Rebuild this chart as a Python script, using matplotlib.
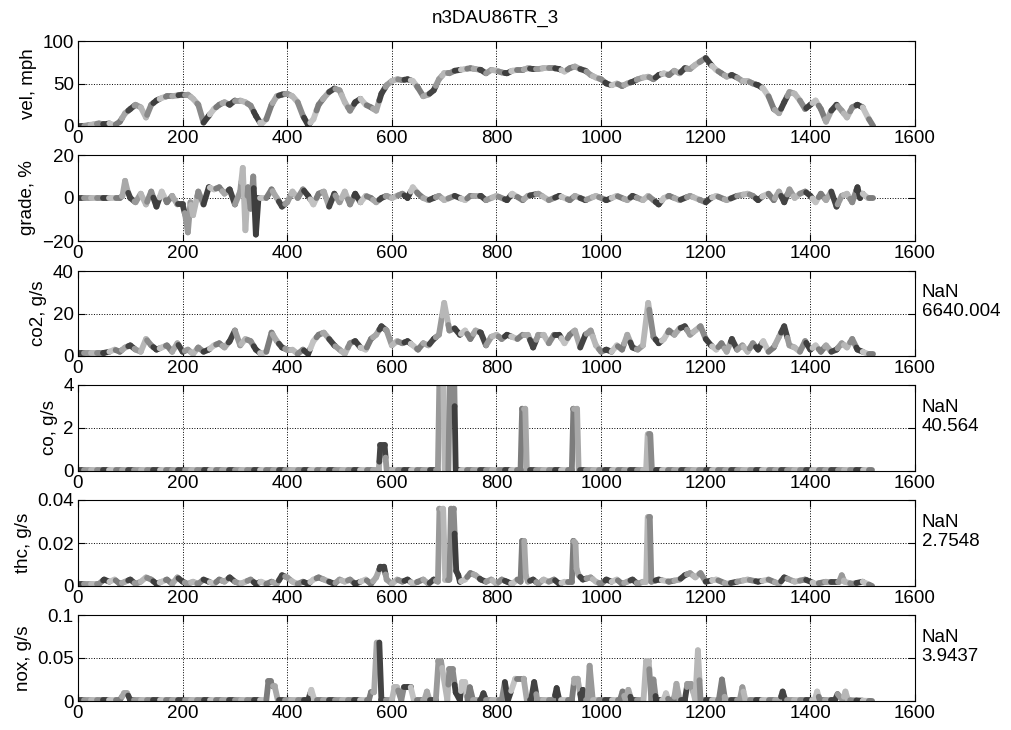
import numpy as np
import matplotlib
matplotlib.use("Agg")
import matplotlib.pyplot as plt
from matplotlib.collections import LineCollection

plt.rcParams["font.family"] = ["Liberation Sans", "DejaVu Sans"]
plt.rcParams["font.size"] = 13.5

TITLE = "n3DAU86TR_3"
YLABELS = ["vel, mph", "grade, %", "co2, g/s", "co, g/s", "thc, g/s", "nox, g/s"]
YLIMS = [(0, 100), (-20, 20), (0, 40), (0, 4), (0, 0.04), (0, 0.1)]
YTICKS = [[0, 50, 100], [-20, 0, 20], [0, 20, 40], [0, 2, 4], [0, 0.02, 0.04], [0, 0.05, 0.1]]
YTICKLABELS = [["0", "50", "100"], ["\u221220", "0", "20"], ["0", "20", "40"],
               ["0", "2", "4"], ["0", "0.02", "0.04"], ["0", "0.05", "0.1"]]
SIDE_NOTES = [None, None, "NaN\n6640.004", "NaN\n40.564", "NaN\n2.7548", "NaN\n3.9437"]

# velocity, one value every 10 s from t=0
vel = [0, 0, 1, 2, 3, 2, 3, 1, 5, 15, 20, 25, 22, 10, 25, 30, 33, 35, 35, 36,
       37, 37, 32, 25, 4, 12, 20, 25, 28, 25, 30, 30, 28, 24, 12, 2, 8, 25, 35, 37,
       38, 35, 28, 12, 1, 8, 25, 33, 40, 44, 42, 28, 18, 28, 32, 25, 22, 18, 38, 48,
       53, 55, 54, 55, 53, 45, 35, 37, 42, 55, 62, 62, 65, 66, 67, 68, 67, 66, 62, 66,
       65, 63, 62, 65, 66, 66, 68, 67, 67, 68, 68, 68, 67, 64, 68, 70, 67, 65, 60, 57,
       55, 50, 48, 50, 47, 50, 52, 55, 57, 58, 55, 60, 62, 60, 65, 62, 68, 67, 72, 76,
       80, 72, 66, 62, 58, 60, 57, 53, 53, 50, 48, 44, 35, 20, 15, 28, 40, 38, 30, 20,
       25, 30, 20, 5, 18, 25, 18, 10, 22, 25, 22, 10, 0]

# co2, one value every 10 s from t=0
co2 = [1.5, 1.5, 1.5, 1.5, 1.5, 1.5, 2, 3, 2, 4, 5, 3, 2, 8, 5, 3, 4, 5, 2, 6,
       2, 3, 1, 4, 2, 3, 5, 6, 4, 7, 12, 5, 8, 7, 3, 1, 2, 11, 7, 4,
       3, 3, 1, 3, 1, 7, 10, 11, 8, 5, 3, 1, 6, 7, 4, 3, 8, 10, 14, 12,
       5, 7, 6, 7, 5, 3, 6, 5, 8, 10, 25, 12, 13, 10, 12, 8, 12, 11, 5, 9,
       10, 8, 10, 9, 8, 10, 10, 4, 10, 10, 6, 10, 10, 6, 10, 12, 4, 10, 12, 5,
       2, 3, 2, 5, 3, 10, 4, 3, 5, 25, 9, 6, 8, 12, 10, 13, 14, 10, 12, 14,
       8, 5, 3, 6, 2, 8, 3, 5, 2, 6, 3, 7, 2, 4, 9, 14, 5, 4, 2, 7,
       3, 5, 2, 5, 2, 3, 6, 4, 8, 3, 2, 1, 1]

grade_t = [0, 80, 85, 90, 95, 100, 110, 120, 130, 140, 150, 160, 170, 180, 190, 200,
           205, 210, 215, 220, 230, 240, 250, 260, 270, 280, 290, 300, 310, 315, 320,
           325, 330, 335, 340, 345, 360, 370, 380, 390, 400, 410, 420, 430, 440, 450,
           460, 470, 480, 490, 500, 510, 520, 530, 540, 550, 560, 570, 580, 590, 600,
           610, 620, 630, 640, 650, 660, 670, 680, 690, 700, 720, 740, 750, 770, 780,
           800, 820, 830, 850, 860, 880, 900, 920, 940, 950, 970, 990, 1010, 1030,
           1050, 1060, 1080, 1090, 1100, 1110, 1120, 1130, 1150, 1170, 1190, 1200,
           1210, 1220, 1240, 1260, 1280, 1290, 1300, 1310, 1320, 1330, 1340, 1350,
           1360, 1370, 1380, 1390, 1400, 1410, 1420, 1430, 1440, 1450, 1460, 1470,
           1480, 1490, 1495, 1500, 1510, 1520]
grade_v = [0, 0, 1, 8, 3, 0, -2, 2, -3, 3, -4, 3, -2, 1, -3, -3,
           -8, -16, -2, -8, 3, -3, 5, 4, 5, 2, 4, -3, 3, 14, -15,
           5, -5, 10, -17, 0, 0, 4, 0, -4, -2, 3, 0, 4, 1, -3,
           2, 3, -4, 2, -2, 3, -3, 2, -2, 1, 0, -2, 0, 1, 0,
           1, 2, 0, 5, 2, 0, -1, 0, 1, -1, 1, -1, 1, 1, -1,
           1, -1, 2, -1, 1, 2, -1, 1, -1, 1, -1, 1, -1, 1,
           -1, 1, -1, 1, -1, -3, 0, 1, -1, 1, -1, -2,
           0, 1, -1, 1, 2, 1, -1, 1, 2, -1, 3, -2,
           4, 0, 2, 3, 1, -2, 2, -1, 3, -4, 1, 2,
           -2, 5, 0, 2, 0, 0]

co_t = [0, 575, 578, 586, 590, 688, 691, 698, 701, 708, 711, 719, 722, 846, 849,
        855, 858, 944, 947, 954, 957, 1086, 1089, 1094, 1097, 1518]
co_v = [0.05, 0.05, 1.2, 1.2, 0.05, 0.05, 4.5, 4.5, 0.05, 0.05, 4.5, 4.5, 0.05,
        0.05, 2.9, 2.9, 0.05, 0.05, 2.9, 2.9, 0.05, 0.05, 1.7, 1.7, 0.05, 0.05]

thc_t = [0, 40, 50, 60, 70, 80, 90, 100, 110, 120, 130, 140, 150, 160, 170, 180,
         190, 200, 210, 220, 230, 240, 250, 260, 270, 280, 290, 300, 310, 320, 330,
         340, 350, 360, 370, 380, 390, 400, 410, 420, 430, 440, 450, 460, 470, 480,
         490, 500, 510, 520, 530, 540, 550, 560, 570, 578, 585, 590, 600, 610, 620,
         630, 640, 650, 660, 670, 680, 688, 691, 698, 700, 702, 710, 713, 718, 723,
         727, 730, 740, 750, 760, 770, 780, 790, 800, 810, 820, 830, 840, 846, 849,
         853, 856, 860, 870, 880, 890, 900, 910, 920, 930, 944, 947, 951, 953, 957,
         965, 980, 990, 1000, 1010, 1020, 1030, 1040, 1050, 1060, 1070, 1080, 1086,
         1089, 1093, 1096, 1110, 1130, 1150, 1160, 1170, 1180, 1190, 1200, 1220,
         1240, 1260, 1280, 1300, 1320, 1340, 1350, 1370, 1390, 1410, 1430, 1455,
         1460, 1465, 1480, 1500, 1518]
thc_v = [0.001, 0.001, 0.003, 0.002, 0.003, 0.001, 0.002, 0.003, 0.001, 0.002,
         0.004, 0.003, 0.001, 0.002, 0.003, 0.001, 0.004, 0.002, 0.001, 0.002,
         0.001, 0.003, 0.002, 0.001, 0.003, 0.002, 0.004, 0.002, 0.001, 0.002,
         0.003, 0.001, 0.002, 0.001, 0.002, 0.001, 0.005, 0.004, 0.002, 0.001,
         0.002, 0.001, 0.003, 0.004, 0.003, 0.002, 0.001, 0.003, 0.002, 0.003,
         0.001, 0.002, 0.003, 0.001, 0.004, 0.009, 0.009, 0.003, 0.001, 0.003,
         0.002, 0.003, 0.001, 0.002, 0.003, 0.001, 0.003, 0.002, 0.036, 0.036,
         0.02, 0.003, 0.003, 0.036, 0.036, 0.007, 0.005, 0.002, 0.003, 0.006,
         0.005, 0.003, 0.002, 0.003, 0.001, 0.003, 0.002, 0.001, 0.003, 0.002,
         0.021, 0.021, 0.005, 0.002, 0.003, 0.001, 0.003, 0.002, 0.003, 0.001,
         0.002, 0.002, 0.021, 0.02, 0.008, 0.005, 0.003, 0.004, 0.002, 0.001,
         0.003, 0.002, 0.003, 0.001, 0.002, 0.003, 0.001, 0.002, 0.002, 0.032,
         0.032, 0.002, 0.003, 0.002, 0.003, 0.005, 0.006, 0.004, 0.006, 0.002,
         0.003, 0.001, 0.002, 0.003, 0.002, 0.003, 0.001, 0.004, 0.002, 0.003,
         0.001, 0.002, 0.002, 0.005, 0.002, 0.001, 0.002, 0.0]

nox_t = [0, 80, 88, 94, 100, 360, 364, 368, 372, 376, 382, 440, 446, 452, 556,
         560, 566, 571, 576, 580, 600, 605, 610, 618, 623, 630, 636, 642, 662, 667,
         672, 684, 689, 694, 706, 710, 716, 722, 730, 734, 740, 745, 749, 755, 770,
         775, 780, 810, 816, 822, 836, 852, 858, 866, 872, 878, 910, 915, 920, 944,
         949, 955, 962, 965, 970, 974, 978, 984, 1036, 1041, 1047, 1052, 1058, 1081,
         1086, 1091, 1096, 1100, 1105, 1119, 1124, 1129, 1139, 1144, 1150, 1160,
         1165, 1172, 1180, 1185, 1190, 1225, 1231, 1237, 1265, 1270, 1276, 1342,
         1347, 1352, 1408, 1413, 1418, 1447, 1452, 1462, 1467, 1472, 1518]
nox_v = [0.001, 0.001, 0.009, 0.009, 0.001, 0.001, 0.023, 0.023, 0.017, 0.017,
         0.001, 0.001, 0.013, 0.001, 0.001, 0.01, 0.01, 0.068, 0.068, 0.001, 0.001,
         0.016, 0.016, 0.001, 0.016, 0.016, 0.016, 0.001, 0.001, 0.011, 0.001,
         0.001, 0.046, 0.046, 0.001, 0.037, 0.037, 0.01, 0.001, 0.022, 0.022,
         0.001, 0.016, 0.001, 0.001, 0.009, 0.001, 0.001, 0.022, 0.001, 0.026,
         0.026, 0.001, 0.001, 0.022, 0.001, 0.001, 0.015, 0.001, 0.001, 0.026,
         0.026, 0.001, 0.013, 0.001, 0.001, 0.041, 0.001, 0.001, 0.011, 0.001,
         0.013, 0.001, 0.001, 0.046, 0.046, 0.001, 0.025, 0.001, 0.001, 0.009,
         0.001, 0.001, 0.02, 0.001, 0.001, 0.02, 0.02, 0.001, 0.059, 0.001, 0.001,
         0.025, 0.001, 0.001, 0.016, 0.001, 0.001, 0.011, 0.001, 0.001, 0.011,
         0.001, 0.001, 0.008, 0.001, 0.011, 0.001, 0.0]

SHADES = ["#444444", "#999999", "#b7b7b7", "#8a8a8a", "#3e3e3e", "#c2c2c2", "#7c7c7c", "#a8a8a8"]
BLOCK = 12.0   # seconds of trace per shade


def shaded_trace(ax, t, v):
    # split each segment at block boundaries so flat runs alternate shades too
    t = np.asarray(t, float)
    v = np.asarray(v, float)
    segs, cols = [], []
    for i in range(len(t) - 1):
        t0, t1, v0, v1 = t[i], t[i + 1], v[i], v[i + 1]
        cuts = np.arange(np.floor(t0 / BLOCK) * BLOCK + BLOCK, t1, BLOCK)
        ts = np.concatenate([[t0], cuts, [t1]])
        vs = v0 + (v1 - v0) * (ts - t0) / (t1 - t0)
        for j in range(len(ts) - 1):
            segs.append([(ts[j], vs[j]), (ts[j + 1], vs[j + 1])])
            mid = 0.5 * (ts[j] + ts[j + 1])
            cols.append(SHADES[int(mid // BLOCK) % len(SHADES)])
    lc = LineCollection(segs, colors=cols, linewidths=4.2, capstyle="round")
    ax.add_collection(lc)


def main():
    t10 = np.arange(len(vel)) * 10
    series = [(t10, vel), (grade_t, grade_v), (t10, co2),
              (co_t, co_v), (thc_t, thc_v), (nox_t, nox_v)]

    fig = plt.figure(figsize=(10.12, 7.3), dpi=100)
    boxes = [(41, 126), (155, 241), (271, 356), (385, 471), (500, 586), (615, 701)]
    left, right = 78, 915
    for k, (top, bot) in enumerate(boxes):
        ax = fig.add_axes([left / 1012, 1 - bot / 730, (right - left) / 1012, (bot - top) / 730])
        shaded_trace(ax, *series[k])
        ax.set_xlim(0, 1600)
        ax.set_ylim(*YLIMS[k])
        ax.set_xticks(range(0, 1601, 200))
        ax.set_yticks(YTICKS[k])
        ax.set_yticklabels(YTICKLABELS[k])
        ax.set_ylabel(YLABELS[k])
        ax.grid(True, linestyle=":", color="k", linewidth=0.7)
        ax.tick_params(direction="in", top=True, right=True, length=5, width=0.8, pad=3)
        for s in ax.spines.values():
            s.set_linewidth(0.8)
        if SIDE_NOTES[k]:
            ax.text(1.008, 0.63, SIDE_NOTES[k], transform=ax.transAxes,
                    ha="left", va="center", linespacing=1.15)
    fig.text(0.489, 0.975, TITLE, ha="center", va="center")
    fig.savefig("out.png", dpi=100)
    plt.close(fig)


if __name__ == "__main__":
    main()
